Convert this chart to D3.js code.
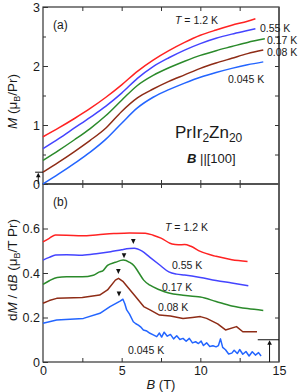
<!DOCTYPE html>
<html>
<head>
<meta charset="utf-8">
<script src="https://cdn.jsdelivr.net/npm/d3@7"></script>
<style>
body { margin: 0; background: #fff; }
text { font-family: "Liberation Sans", Arial, sans-serif; fill: #1a1a1a; }
</style>
</head>
<body>
<script>
// temperatures and colours (top to bottom)
const temps = ["1.2 K", "0.55 K", "0.17 K", "0.08 K", "0.045 K"];
const colors = ["#ff2222", "#4444ff", "#2b8a2b", "#8e2c16", "#2365ff"];

// panel (a): M vs B, curves shifted by 0.2 each
const m_12 = [[0,0.80],[1,0.95],[2,1.11],[3,1.28],[4,1.47],[5,1.68],[6,1.91],[7,2.10],[8,2.26],[9,2.40],[10,2.52],[11,2.61],[12,2.69],[13,2.76],[13.5,2.80]];
const m_055 = [[0,0.60],[1,0.77],[2,0.95],[3,1.13],[4,1.32],[5,1.54],[6,1.79],[7,1.99],[8,2.14],[9,2.27],[10,2.38],[11,2.47],[12,2.54],[13,2.60],[13.5,2.63]];
const m_017 = [[0,0.40],[1,0.57],[2,0.75],[3,0.94],[4,1.16],[5,1.42],[6,1.67],[7,1.84],[8,1.97],[9,2.08],[10,2.18],[11,2.26],[12,2.33],[13,2.40],[14.1,2.46]];
const m_008 = [[0,0.20],[1,0.37],[2,0.55],[3,0.74],[4,0.95],[5,1.23],[6,1.46],[7,1.61],[8,1.74],[9,1.85],[10,1.96],[11,2.05],[12,2.13],[13,2.21],[14,2.27]];
const m_0045 = [[0,0.00],[1,0.17],[2,0.35],[3,0.54],[4,0.76],[5,1.03],[6,1.29],[7,1.47],[8,1.60],[9,1.71],[10,1.81],[11,1.89],[12,1.96],[13,2.02],[14,2.07]];

// panel (b): dM/dB vs B, curves shifted by 0.1 each
const d_12 = [[0,0.540],[0.4,0.556],[0.8,0.571],[1.5,0.570],[2.5,0.567],[3.5,0.572],[4.5,0.577],[5.5,0.580],[6.5,0.579],[7.0,0.570],[7.5,0.557],[8.2,0.530],[8.6,0.527],[9.0,0.528],[9.4,0.520],[10,0.497],[11,0.475],[12,0.460],[13,0.452]];
const d_055 = [[0,0.458],[0.4,0.470],[0.8,0.481],[1.5,0.482],[2.5,0.480],[3.5,0.488],[4.3,0.496],[5.0,0.505],[5.8,0.511],[6.3,0.498],[6.8,0.470],[7.4,0.437],[8.0,0.405],[8.5,0.395],[9,0.391],[10,0.380],[11,0.366],[12,0.355],[13.05,0.343]];
const d_017 = [[0,0.349],[0.4,0.365],[0.9,0.380],[1.5,0.383],[2.5,0.383],[3.2,0.390],[3.6,0.405],[3.8,0.410],[4.1,0.434],[4.6,0.448],[5.1,0.458],[5.5,0.448],[5.8,0.432],[6.1,0.400],[6.4,0.368],[6.8,0.345],[7.4,0.325],[8.0,0.310],[8.9,0.300],[9.5,0.295],[10,0.292],[11,0.272],[12,0.252],[13,0.240],[14,0.232]];
const d_008 = [[0,0.264],[0.4,0.276],[0.87,0.286],[2.5,0.290],[3.6,0.301],[4.1,0.324],[4.6,0.368],[4.8,0.376],[5.1,0.361],[5.8,0.301],[6.4,0.249],[6.8,0.234],[7.4,0.211],[8.1,0.207],[8.9,0.196],[9.5,0.200],[10,0.204],[10.4,0.196],[11.1,0.171],[11.6,0.144],[12.3,0.159],[12.7,0.136],[13.6,0.136]];
const d_0045 = [[0,0.174],[0.87,0.189],[2.57,0.196],[3.62,0.219],[4.26,0.249],[4.9,0.274],[5.08,0.282],[5.2,0.262],[5.32,0.234],[5.5,0.215],[5.74,0.181],[5.9,0.172],[6.06,0.166],[6.2,0.158],[6.38,0.144],[6.6,0.139],[6.8,0.129],[7.01,0.122],[7.23,0.114],[7.40,0.130],[7.54,0.112],[7.7,0.134],[7.9,0.116],[8.1,0.124],[8.3,0.104],[8.5,0.118],[8.7,0.101],[8.9,0.106],[9.1,0.093],[9.3,0.106],[9.5,0.086],[9.7,0.091],[9.88,0.083],[10.05,0.094],[10.2,0.074],[10.4,0.086],[10.6,0.070],[10.8,0.073],[11.0,0.068],[11.15,0.074],[11.28,0.104],[11.42,0.066],[11.6,0.055],[11.8,0.036],[12.0,0.040],[12.15,0.053],[12.35,0.038],[12.5,0.056],[12.7,0.035],[12.9,0.047],[13.1,0.027],[13.3,0.046],[13.5,0.031],[13.7,0.042],[13.86,0.027]];

// peak markers in (b): [B, value at tip]
const peaks = [[5.74,0.530],[5.15,0.466],[4.79,0.396],[4.83,0.294]];

const xTicks = [0, 5, 10, 15];
const xMinor = [2.5, 5, 7.5, 10, 12.5];
const yTopTicks = [0, 1, 2, 3];
const yTopMinor = [0.5, 1, 1.5, 2, 2.5];
const yBotTicks = [0, 0.2, 0.4, 0.6];
const yBotMinor = [0.2, 0.4, 0.6];

const width = 299, height = 392;
const marginLeft = 43, plotRight = 279;
const topA = 7, mid = 184, botB = 362;

const x = d3.scaleLinear().domain([0, 15]).range([marginLeft, plotRight]);
const yA = d3.scaleLinear().domain([0, 3]).range([mid, topA]);
const yB = d3.scaleLinear().domain([0, 0.8]).range([botB, mid]);

const svg = d3.select("body").append("svg")
  .attr("width", width)
  .attr("height", height);

const axisCol = "#333";

function noDomain(g) { g.select(".domain").remove(); g.selectAll("line").attr("stroke", axisCol).attr("stroke-width", 1); }

// frames
svg.append("rect").attr("x", x(0)).attr("y", yA(3)).attr("width", x(15) - x(0)).attr("height", yA(0) - yA(3))
  .attr("fill", "none").attr("stroke", axisCol).attr("stroke-width", 1.2);
svg.append("rect").attr("x", x(0)).attr("y", yB(0.8)).attr("width", x(15) - x(0)).attr("height", yB(0) - yB(0.8))
  .attr("fill", "none").attr("stroke", axisCol).attr("stroke-width", 1.2);
// right spine drawn a little heavier and greyer
svg.append("line").attr("x1", plotRight).attr("x2", plotRight).attr("y1", topA).attr("y2", botB)
  .attr("stroke", "#555").attr("stroke-width", 1.6);

// panel (a) axes
svg.append("g").attr("transform", `translate(${marginLeft},0)`)
  .call(d3.axisLeft(yA).tickValues(yTopTicks).tickSizeInner(-5).tickSizeOuter(0).tickPadding(3).tickFormat(d3.format("d")))
  .call(noDomain)
  .call(g => g.selectAll("text").attr("font-size", 12.5).attr("fill", "#1a1a1a"));
svg.append("g").attr("transform", `translate(${marginLeft},0)`)
  .call(d3.axisLeft(yA).tickValues(yTopMinor).tickSizeInner(-3).tickSizeOuter(0).tickFormat(""))
  .call(noDomain);
svg.append("g").attr("transform", `translate(${plotRight},0)`)
  .call(d3.axisRight(yA).tickValues(yTopMinor).tickSizeInner(-4).tickSizeOuter(0).tickFormat(""))
  .call(noDomain);
svg.append("g").attr("transform", `translate(0,${topA})`)
  .call(d3.axisTop(x).tickValues(xMinor).tickSizeInner(-4).tickSizeOuter(0).tickFormat(""))
  .call(noDomain);
svg.append("g").attr("transform", `translate(0,${mid})`)
  .call(d3.axisBottom(x).tickValues(xMinor).tickSizeInner(-4).tickSizeOuter(0).tickFormat(""))
  .call(noDomain);

// panel (b) axes
svg.append("g").attr("transform", `translate(0,${mid})`)
  .call(d3.axisTop(x).tickValues(xMinor).tickSizeInner(-4).tickSizeOuter(0).tickFormat(""))
  .call(noDomain);
svg.append("g").attr("transform", `translate(0,${botB})`)
  .call(d3.axisBottom(x).tickValues(xTicks).tickSizeInner(0).tickSizeOuter(0).tickPadding(4).tickFormat(d3.format("d")))
  .call(noDomain)
  .call(g => g.selectAll("text").attr("font-size", 12.5).attr("fill", "#1a1a1a"));
svg.append("g").attr("transform", `translate(0,${botB})`)
  .call(d3.axisBottom(x).tickValues(xMinor).tickSizeInner(-4).tickSizeOuter(0).tickFormat(""))
  .call(noDomain);
svg.append("g").attr("transform", `translate(${marginLeft},0)`)
  .call(d3.axisLeft(yB).tickValues(yBotTicks).tickSizeInner(-5).tickSizeOuter(0).tickPadding(3).tickFormat(d => d === 0 ? "0" : d3.format(".1f")(d)))
  .call(noDomain)
  .call(g => g.selectAll("text").attr("font-size", 12.5).attr("fill", "#1a1a1a"));
svg.append("g").attr("transform", `translate(${plotRight},0)`)
  .call(d3.axisRight(yB).tickValues(yBotMinor).tickSizeInner(-4).tickSizeOuter(0).tickFormat(""))
  .call(noDomain);

// curves
const lineA = d3.line().x(d => x(d[0])).y(d => yA(d[1])).curve(d3.curveMonotoneX);
const lineB = d3.line().x(d => x(d[0])).y(d => yB(d[1])).curve(d3.curveMonotoneX);
const lineBn = d3.line().x(d => x(d[0])).y(d => yB(d[1]));

[m_12, m_055, m_017, m_008, m_0045].forEach((s, i) => {
  svg.append("path").attr("d", lineA(s)).attr("fill", "none")
    .attr("stroke", colors[i]).attr("stroke-width", 1.5);
});
[d_12, d_055, d_017].forEach((s, i) => {
  svg.append("path").attr("d", lineB(s)).attr("fill", "none")
    .attr("stroke", colors[i]).attr("stroke-width", 1.5);
});
[d_008, d_0045].forEach((s, i) => {
  svg.append("path").attr("d", lineBn(s)).attr("fill", "none")
    .attr("stroke", colors[i + 3]).attr("stroke-width", 1.5).attr("stroke-linejoin", "round");
});

// peak markers
svg.selectAll("path.peak").data(peaks).enter().append("path")
  .attr("class", "peak")
  .attr("d", d => { const px = x(d[0]), py = yB(d[1]); return `M${px},${py}L${px - 2.3},${py - 5}L${px + 2.3},${py - 5}Z`; })
  .attr("fill", "#111");

// offset arrows
function offsetArrow(px, y0, y1, x0, x1) {
  svg.append("line").attr("x1", px).attr("x2", px).attr("y1", y0).attr("y2", y1 + 3)
    .attr("stroke", "#111").attr("stroke-width", 1);
  svg.append("path").attr("d", `M${px},${y1 + 0.5}L${px - 2.3},${y1 + 5}L${px + 2.3},${y1 + 5}Z`).attr("fill", "#111");
  svg.append("line").attr("x1", x0).attr("x2", x1).attr("y1", y1).attr("y2", y1)
    .attr("stroke", "#111").attr("stroke-width", 1);
}
offsetArrow(x(-0.3), yA(0), yA(0.2), x(-0.5), x(0));
offsetArrow(x(14.4), yB(0), yB(0.1), x(13.65), x(15));

// labels
const fs = 10.5;
function tLabel(txt, px, py, italicT) {
  const t = svg.append("text").attr("x", px).attr("y", py).attr("font-size", fs);
  if (italicT) {
    t.append("tspan").attr("font-style", "italic").text("T");
    t.append("tspan").text(" = " + txt);
  } else t.text(txt);
}
// panel (a)
tLabel(temps[0], 175, 24, true);
tLabel(temps[1], 260, 32);
tLabel(temps[2], 267, 44);
tLabel(temps[3], 267, 56);
tLabel(temps[4], 228, 83);
// panel (b)
tLabel(temps[0], 165, 231, true);
tLabel(temps[1], 172, 269);
tLabel(temps[2], 162, 291);
tLabel(temps[3], 158, 311);
tLabel(temps[4], 128, 354);

svg.append("text").attr("x", 53).attr("y", 29).attr("font-size", 12).text("(a)");
svg.append("text").attr("x", 53).attr("y", 206).attr("font-size", 12).text("(b)");

const comp = svg.append("text").attr("x", 175).attr("y", 138).attr("font-size", 17);
comp.append("tspan").text("PrIr");
comp.append("tspan").attr("font-size", 12).attr("dy", 4).text("2");
comp.append("tspan").attr("dy", -4).text("Zn");
comp.append("tspan").attr("font-size", 12).attr("dy", 4).text("20");

const bdir = svg.append("text").attr("x", 187).attr("y", 163).attr("font-size", 13);
bdir.append("tspan").attr("font-weight", "bold").attr("font-style", "italic").text("B");
bdir.append("tspan").text(" ||[100]");

// axis titles
const ya = svg.append("text").attr("transform", `translate(17,${(topA + mid) / 2 + 6}) rotate(-90)`)
  .attr("text-anchor", "middle").attr("font-size", 13.5);
ya.append("tspan").attr("font-style", "italic").text("M");
ya.append("tspan").text(" (μ");
ya.append("tspan").attr("font-size", 9).attr("dy", 3).text("B");
ya.append("tspan").attr("dy", -3).text("/Pr)");

const yb = svg.append("text").attr("transform", `translate(17,${(mid + botB) / 2 - 3}) rotate(-90)`)
  .attr("text-anchor", "middle").attr("font-size", 13.5);
yb.append("tspan").text("d");
yb.append("tspan").attr("font-style", "italic").text("M");
yb.append("tspan").text(" / d");
yb.append("tspan").attr("font-style", "italic").text("B");
yb.append("tspan").text(" (μ");
yb.append("tspan").attr("font-size", 9).attr("dy", 3).text("B");
yb.append("tspan").attr("dy", -3).text("/T Pr)");

const xl = svg.append("text").attr("x", (marginLeft + plotRight) / 2).attr("y", 389)
  .attr("text-anchor", "middle").attr("font-size", 13);
xl.append("tspan").attr("font-style", "italic").text("B");
xl.append("tspan").text(" (T)");
</script>
</body>
</html>
